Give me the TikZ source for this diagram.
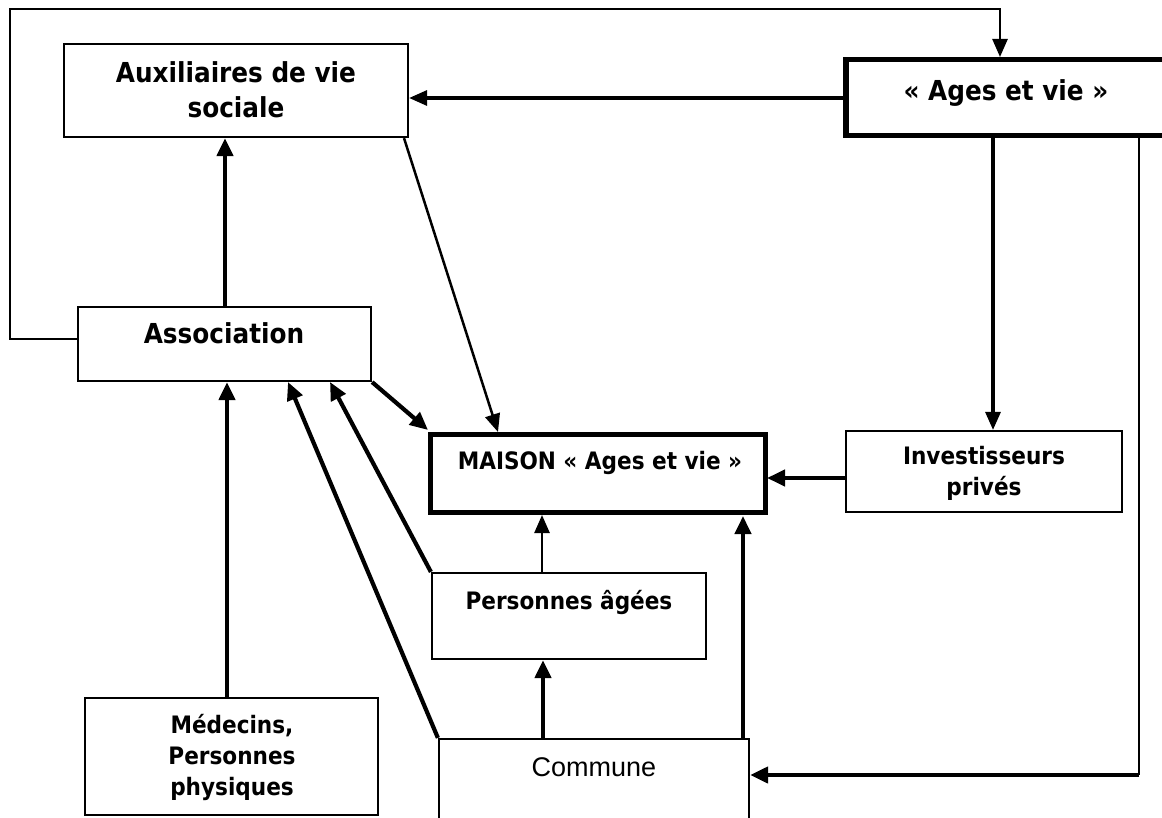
\documentclass[tikz,border=0pt]{standalone}
\usepackage{fontspec}
\usetikzlibrary{arrows.meta}
\newfontfamily\labfont{DejaVu Sans Condensed Bold}
\newfontfamily\comfont{Liberation Sans}
\tikzset{
  box/.style={draw, line width=2.2pt, inner sep=0pt},
  thickbox/.style={draw, line width=5.5pt, inner sep=0pt},
  bigtxt/.style={align=center, inner sep=0pt, font=\labfont\fontsize{27.5}{35}\selectfont},
  smalltxt/.style={align=center, inner sep=0pt, font=\labfont\fontsize{24}{31}\selectfont},
  conA/.style={line width=2.5pt, -{Triangle[length=18pt,width=15pt]}},
  conB/.style={line width=3.2pt, -{Triangle[length=18pt,width=15pt]}},
  conC/.style={line width=4.2pt, -{Triangle[length=18pt,width=16pt]}},
}
\begin{document}
\begin{tikzpicture}[x=1pt,y=-1pt]
\useasboundingbox (0,0) rectangle (1162,818);
\clip (0,0) rectangle (1162,818);
\fill[white] (0,0) rectangle (1162,818);
% boxes
\node[box, minimum width=344pt, minimum height=93pt] (aux) at (236,90.5) {};
\node[thickbox, minimum width=320pt, minimum height=76pt] (ages) at (1006,97.5) {};
\node[box, minimum width=293pt, minimum height=74pt] (assoc) at (224.5,344) {};
\node[thickbox, minimum width=335pt, minimum height=78pt] (maison) at (598,473.5) {};
\node[box, minimum width=276pt, minimum height=81pt] (inv) at (984,471.5) {};
\node[box, minimum width=274pt, minimum height=86pt] (pers) at (569,616) {};
\node[box, minimum width=293pt, minimum height=117pt] (med) at (231.5,756.5) {};
\node[box, minimum width=310pt, minimum height=91pt] (comm) at (594,784.5) {};
% texts
\node[bigtxt] (tAux) at (236,90) {Auxiliaires de vie\\sociale};
\node[bigtxt] (tAges) at (1006,93) {« Ages et vie »};
\node[bigtxt] (tAssoc) at (224,333) {Association};
\node[smalltxt] (tMaison) at (600,463) {MAISON « Ages et vie »};
\node[smalltxt] (tInv) at (984,473) {Investisseurs\\privés};
\node[smalltxt] (tPers) at (569,602) {Personnes âgées};
\node[smalltxt] (tMed) at (232,757) {Médecins,\\Personnes\\physiques};
\node[inner sep=0pt, font=\comfont\fontsize{27}{31}\selectfont] (tComm) at (594,767) {Commune};
% connectors
\coordinate (l1) at (10,339);
\coordinate (l2) at (10,9);
\coordinate (l3) at (1000,9);
\draw[conA] (assoc.west |- l1) -- (l1) -- (l2) -- (l3) -- (1000,57);
\draw[conB] (ages.west |- 0,98) -- (aux.east |- 0,98);
\draw[conC] (225,0 |- assoc.north) -- (225,0 |- aux.south);
\draw[conA] (404,0 |- aux.south) -- (498,432);
\draw[conC] (assoc.south east) -- (428,430);
\draw[conB] (993,0 |- ages.south) -- (993,0 |- inv.north);
\coordinate (r1) at (1139,775);
\draw[line width=2.5pt] (1139,0 |- ages.south) -- (r1);
\draw[conC] (r1) -- (comm.east |- r1);
\draw[conC] (inv.west |- 0,478) -- (767,478);
\draw[conA] (542,0 |- pers.north) -- (542,515);
\draw[conC] (743,0 |- comm.north) -- (743,516);
\draw[conC] (543,0 |- comm.north) -- (543,0 |- pers.south);
\draw[conC] (227,0 |- med.north) -- (227,0 |- assoc.south);
\draw[conC] (comm.north west) -- (288,382);
\draw[conC] (pers.north west) -- (330,382);
\end{tikzpicture}
\end{document}
